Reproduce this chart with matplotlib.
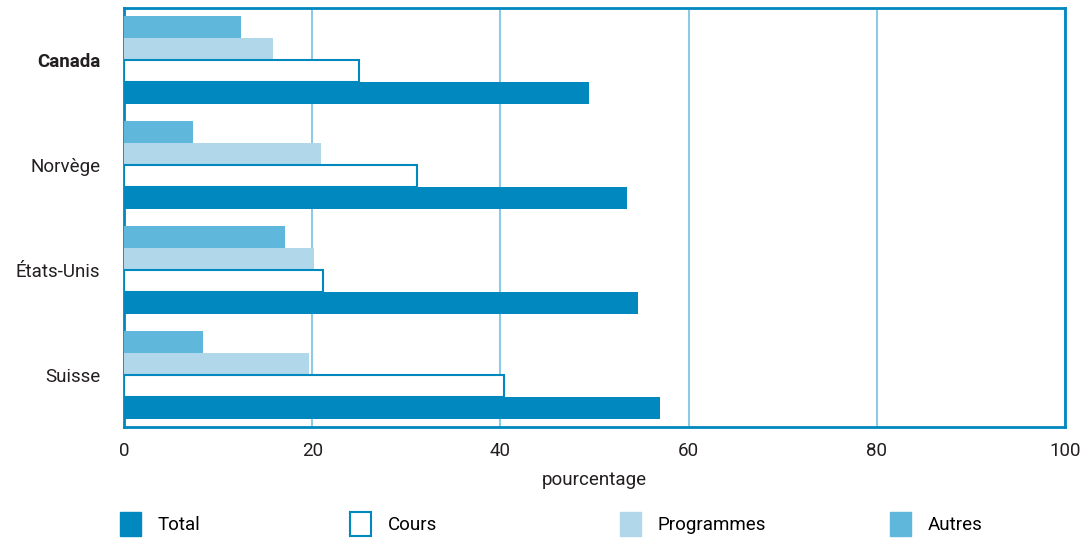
import matplotlib
matplotlib.use("Agg")
import matplotlib.pyplot as plt
from matplotlib.patches import Patch
import numpy as np

plt.rcParams['font.family'] = ['Roboto', 'DejaVu Sans']

categories = ["Canada", "Norvège", "États-Unis", "Suisse"]
total = [49.4, 53.5, 54.6, 57.0]
cours = [25.0, 31.1, 21.1, 40.4]
programmes = [15.8, 20.9, 20.2, 19.7]
autres = [12.4, 7.3, 17.1, 8.4]
xticks = [0, 20, 40, 60, 80, 100]

c_total = "#0088bf"
c_prog = "#b0d8ea"
c_autres = "#5fb7db"
c_grid = "#8ccbe6"
c_text = "#231f20"

fig = plt.figure(figsize=(10.87, 5.38), dpi=100)
ax = fig.add_axes([124/1087, 1-427/538, (1065-124)/1087, (427-8)/538])

y = np.arange(len(categories))
h = 0.21
ax.barh(y - 1.5*h, autres, height=h, color=c_autres, zorder=3)
ax.barh(y - 0.5*h, programmes, height=h, color=c_prog, zorder=3)
ax.barh(y + 0.5*h, cours, height=h, facecolor="white", edgecolor=c_total, linewidth=1.5, zorder=3)
ax.barh(y + 1.5*h, total, height=h, color=c_total, zorder=3)

ax.set_xlim(0, 100)
ax.set_ylim(3.5, -0.5)
ax.set_xticks(xticks)
ax.set_xticklabels([str(t) for t in xticks], fontsize=13.5, color=c_text)
ax.set_yticks(y)
ax.set_yticklabels(categories, fontsize=13.5, color=c_text)
ax.get_yticklabels()[0].set_fontweight("bold")
ax.tick_params(axis="both", length=0)
ax.tick_params(axis="x", pad=11)
ax.tick_params(axis="y", pad=17)
ax.xaxis.grid(True, color=c_grid, linewidth=1.5, zorder=0)
ax.set_axisbelow(True)
for s in ax.spines.values():
    s.set_color(c_total)
    s.set_linewidth(2)
ax.set_xlabel("pourcentage", fontsize=13.5, color=c_text, labelpad=8)

handles = [
    Patch(facecolor=c_total, edgecolor=c_total, label="Total"),
    Patch(facecolor="white", edgecolor=c_total, linewidth=1.5, label="Cours"),
    Patch(facecolor=c_prog, edgecolor=c_prog, label="Programmes"),
    Patch(facecolor=c_autres, edgecolor=c_autres, label="Autres"),
]
xs = [120, 350, 620, 890]
for hd, xp in zip(handles, xs):
    fig.legend(handles=[hd], loc="center left", bbox_to_anchor=(xp/1087, 1-524/538),
               frameon=False, fontsize=13.5, handlelength=1.1, handleheight=1.6,
               handletextpad=0.9, borderpad=0, borderaxespad=0)

fig.savefig("out.png", dpi=100)
